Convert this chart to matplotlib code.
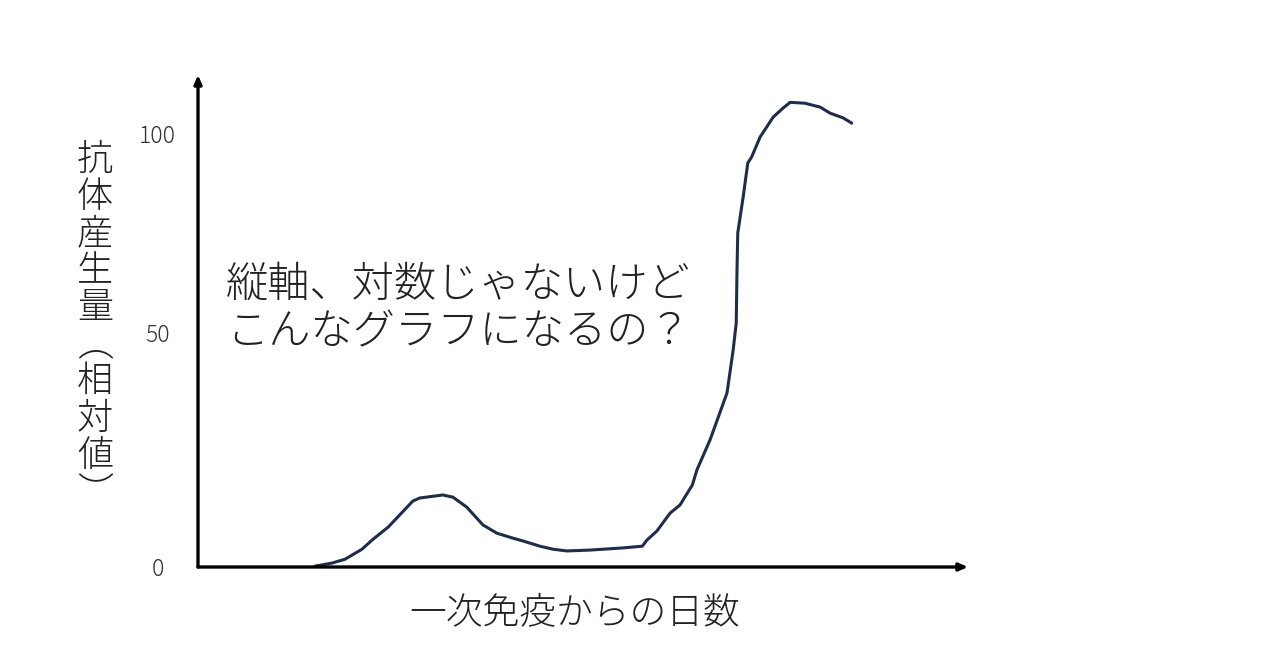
import matplotlib
matplotlib.use("Agg")
import matplotlib.pyplot as plt

plt.rcParams['font.family'] = ['Noto Sans CJK JP', 'DejaVu Sans']
plt.rcParams['font.weight'] = 'light'

# days since first immunisation (arbitrary units) vs relative antibody level
days = [15.2, 17.4, 19.1, 21.3, 22.6, 24.7, 26.2, 27.9, 28.8, 31.8, 33.1, 34.9,
        37.0, 38.8, 40.8, 42.2, 44.4, 46.1, 47.9, 50.9, 55.2, 57.7, 58.3, 59.6,
        61.3, 62.6, 64.2, 64.8, 66.5, 68.7, 69.5, 69.9, 70.0, 70.1, 70.8, 71.4,
        71.9, 73.0, 74.7, 76.0, 76.9, 78.8, 80.8, 82.1, 83.8, 84.9]
antibody = [0.2, 0.9, 1.8, 4.1, 6.2, 9.2, 12.0, 15.2, 15.9, 16.6, 16.1, 13.8,
            9.7, 7.8, 6.7, 6.0, 4.8, 4.1, 3.7, 3.9, 4.4, 4.8, 6.2, 8.3,
            12.4, 14.3, 18.9, 22.4, 29.3, 40.1, 50.0, 56.2, 68.4, 77.0, 85.3, 93.1,
            94.5, 99.1, 103.7, 105.8, 107.1, 106.9, 106.0, 104.6, 103.5, 102.3]

tick_pos = [0, 54, 100]
tick_labels = ['0', '50', '100']

ylabel_chars = ['抗', '体', '産', '生', '量', '︵', '相', '対', '値', '︶']
xlabel = '一次免疫からの日数'
note_lines = ['縦軸、対数じゃないけど', 'こんなグラフになるの？']

fig = plt.figure(figsize=(12.8, 6.7), dpi=100)
ax = fig.add_axes([198 / 1280, 103 / 670, 770 / 1280, 492 / 670])
ax.set_xlim(0, 100)
ax.set_ylim(0, 113.4)
for s in ax.spines.values():
    s.set_visible(False)

ax.plot(days, antibody, color='#1f2d4a', lw=2.2, solid_capstyle='round')

# axis arrows
arrow = dict(arrowstyle='-|>,head_length=0.5,head_width=0.22', lw=2.4,
             color='black', shrinkA=0, shrinkB=0)
ax.annotate('', xy=(0, 1), xytext=(0, 0), xycoords='axes fraction',
            textcoords='axes fraction', arrowprops=arrow)
ax.annotate('', xy=(1, 0), xytext=(0, 0), xycoords='axes fraction',
            textcoords='axes fraction', arrowprops=arrow)

ax.set_xticks([])
ax.set_yticks(tick_pos)
ax.set_yticklabels(tick_labels, fontsize=16.5, color='#333333')
ax.tick_params(axis='y', length=0, pad=29)
for lab in ax.get_yticklabels():
    lab.set_horizontalalignment('center')

# vertical y label
y0 = 160
for i, ch in enumerate(ylabel_chars):
    fig.text(95 / 1280, 1 - (y0 + 37 * i) / 670, ch, fontsize=26,
             ha='center', va='center', color='#222222')

fig.text(575 / 1280, 1 - 613 / 670, xlabel, fontsize=26.5,
         ha='center', va='center', color='#222222')

for i, line in enumerate(note_lines):
    fig.text(226 / 1280, 1 - (285 + 48 * i) / 670, line, fontsize=30.4,
             ha='left', va='center', color='#222222')

fig.savefig('out.png', dpi=100)
